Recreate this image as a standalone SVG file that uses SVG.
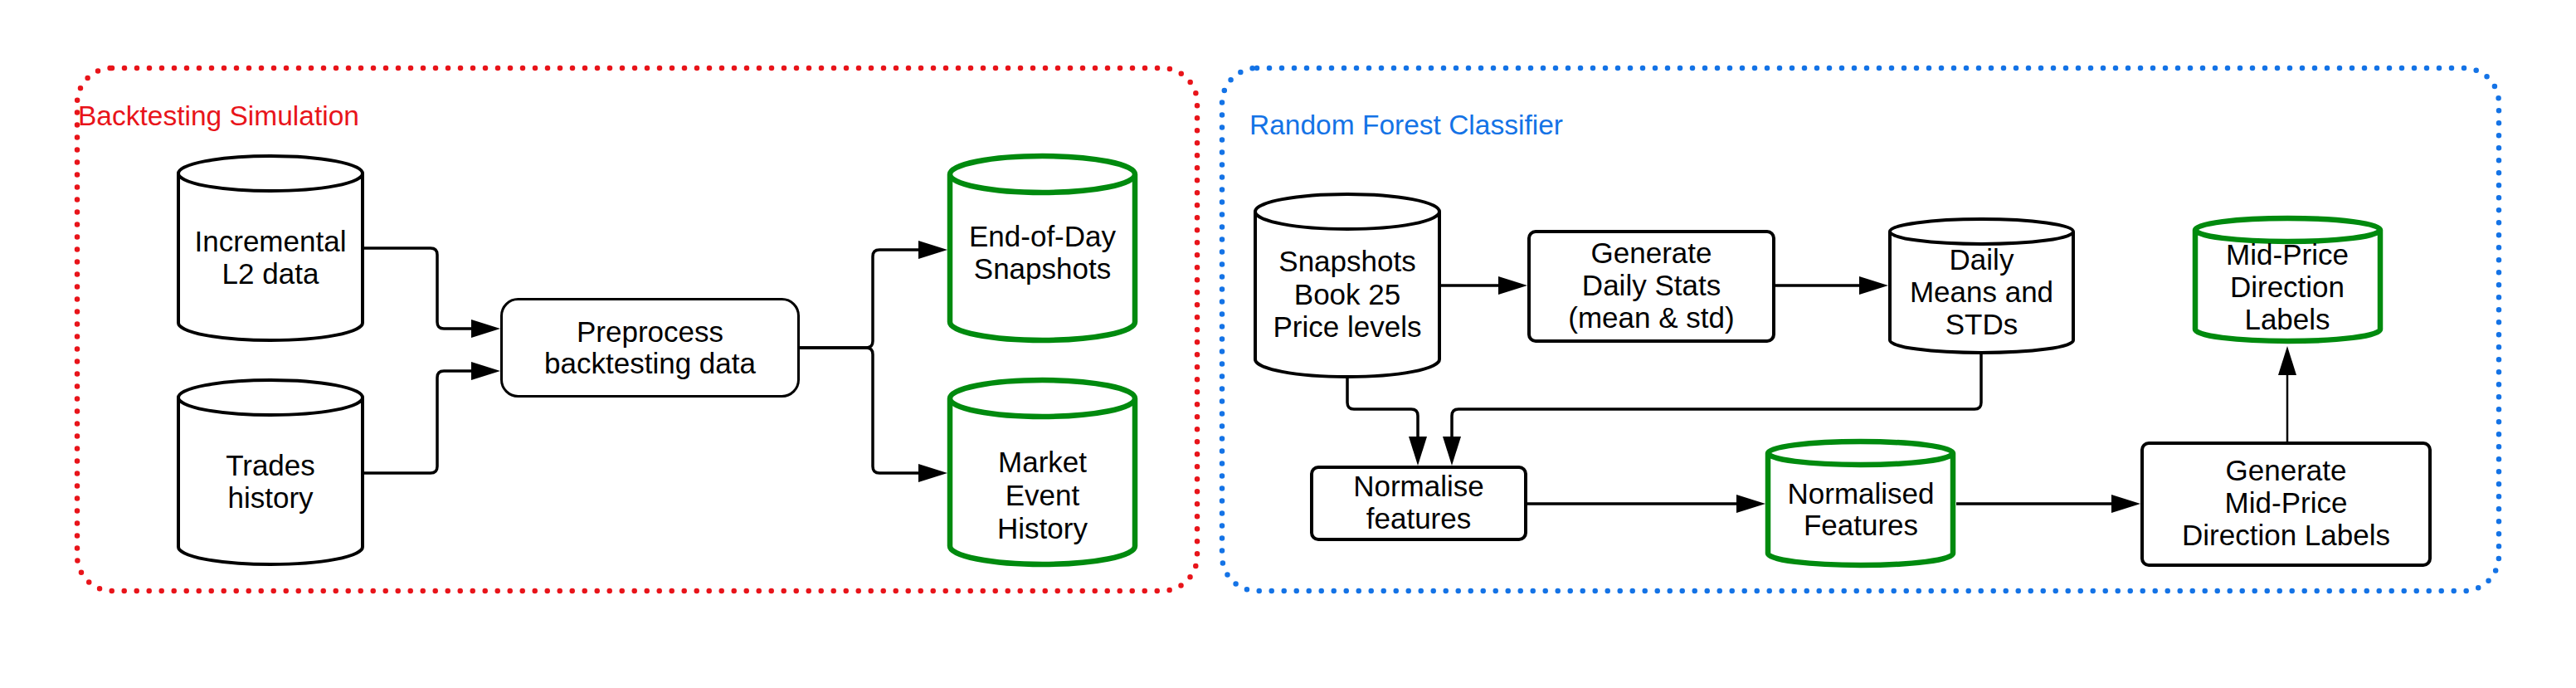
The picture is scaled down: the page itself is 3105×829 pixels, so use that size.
<svg xmlns="http://www.w3.org/2000/svg" width="3105" height="829" viewBox="0 0 3105 829">
<style>
text{font-family:"Liberation Sans",Arial,sans-serif;font-size:35px;fill:#000;text-anchor:middle}
.lbl{font-size:33.5px;text-anchor:start}
.cyl{fill:#fff;stroke:#000;stroke-width:4}
.gcyl{fill:#fff;stroke:#008a0e;stroke-width:6.5}
.box{fill:#fff;stroke:#000;stroke-width:4}
.con{fill:none;stroke:#000;stroke-width:3.5}
.cont{fill:none;stroke-width:6.5;stroke-dasharray:0 15;stroke-linecap:round}
</style>
<defs>
<marker id="ah" markerUnits="userSpaceOnUse" markerWidth="36" markerHeight="24" refX="27" refY="11" orient="auto">
<path d="M0,0 L35,11 L0,22 Z" fill="#000"/>
</marker>
</defs>
<rect width="3105" height="829" fill="#fff"/>
<g id="containers">
<rect id="backtesting" x="93" y="82" width="1350" height="630" rx="42" class="cont" stroke="#e8141a"/>
<rect id="rf" x="1473" y="82" width="1539" height="630" rx="42" class="cont" stroke="#1473e6"/>
<text class="lbl" x="94" y="151" style="fill:#e8141a">Backtesting Simulation</text>
<text class="lbl" x="1506" y="162" style="fill:#1473e6">Random Forest Classifier</text>
</g>
<g id="connectors">
<path class="con" d="M439,299 H519 Q527,299 527,307 V388 Q527,396 535,396 H595" marker-end="url(#ah)"/>
<path class="con" d="M439,570 H519 Q527,570 527,562 V455 Q527,447 535,447 H595" marker-end="url(#ah)"/>
<path class="con" d="M964,419 H1044 Q1052,419 1052,411 V309 Q1052,301 1060,301 H1134" marker-end="url(#ah)"/>
<path class="con" d="M964,419 H1044 Q1052,419 1052,427 V562 Q1052,570 1060,570 H1134" marker-end="url(#ah)"/>
<path class="con" d="M1737,344 H1833" marker-end="url(#ah)"/>
<path class="con" d="M2140,344 H2268" marker-end="url(#ah)"/>
<path class="con" d="M1624,456 V485 Q1624,493 1632,493 H1701 Q1709,493 1709,501 V553" marker-end="url(#ah)"/>
<path class="con" d="M2388,427 V485 Q2388,493 2380,493 H1758 Q1750,493 1750,501 V553" marker-end="url(#ah)"/>
<path class="con" d="M1841,607 H2120" marker-end="url(#ah)"/>
<path class="con" d="M2358,607 H2572" marker-end="url(#ah)"/>
<path class="con" style="stroke-width:2.5" d="M2757,532 V425" marker-end="url(#ah)"/>
</g>
<g id="incremental">
<path class="cyl" d="M215,209 A111,21 0 0 1 437,209 V389 A111,21 0 0 1 215,389 Z M215,209 A111,21 0 0 0 437,209"/>
<text x="326" y="303">Incremental</text><text x="326" y="342">L2 data</text>
</g>
<g id="trades">
<path class="cyl" d="M215,479 A111,21 0 0 1 437,479 V659 A111,21 0 0 1 215,659 Z M215,479 A111,21 0 0 0 437,479"/>
<text x="326" y="573">Trades</text><text x="326" y="612">history</text>
</g>
<g id="preprocess">
<rect class="box" style="stroke-width:3" x="604.5" y="360.5" width="358" height="117" rx="20"/>
<text x="783.5" y="412">Preprocess</text><text x="783.5" y="450">backtesting data</text>
</g>
<g id="eod">
<path class="gcyl" d="M1145,210 A111.5,22 0 0 1 1368,210 V388 A111.5,22 0 0 1 1145,388 Z M1145,210 A111.5,22 0 0 0 1368,210"/>
<text x="1256.5" y="297">End-of-Day</text><text x="1256.5" y="336">Snapshots</text>
</g>
<g id="market">
<path class="gcyl" d="M1145,480 A111.5,22 0 0 1 1368,480 V658 A111.5,22 0 0 1 1145,658 Z M1145,480 A111.5,22 0 0 0 1368,480"/>
<text x="1256.5" y="569">Market</text><text x="1256.5" y="609">Event</text><text x="1256.5" y="649">History</text>
</g>
<g id="snapshots">
<path class="cyl" d="M1513,255 A111,21 0 0 1 1735,255 V433 A111,21 0 0 1 1513,433 Z M1513,255 A111,21 0 0 0 1735,255"/>
<text x="1624" y="327">Snapshots</text><text x="1624" y="367">Book 25</text><text x="1624" y="406">Price levels</text>
</g>
<g id="dailystats">
<rect class="box" x="1843" y="279" width="295" height="132" rx="8"/>
<text x="1990.5" y="317">Generate</text><text x="1990.5" y="356">Daily Stats</text><text x="1990.5" y="395">(mean &amp; std)</text>
</g>
<g id="dailymeans">
<path class="cyl" d="M2278,279 A110.5,15 0 0 1 2499,279 V410 A110.5,15 0 0 1 2278,410 Z M2278,279 A110.5,15 0 0 0 2499,279"/>
<text x="2388.5" y="325">Daily</text><text x="2388.5" y="364">Means and</text><text x="2388.5" y="403">STDs</text>
</g>
<g id="midprice">
<path class="gcyl" d="M2646,277 A111.5,14 0 0 1 2869,277 V397 A111.5,14 0 0 1 2646,397 Z M2646,277 A111.5,14 0 0 0 2869,277"/>
<text x="2757" y="319">Mid-Price</text><text x="2757" y="358">Direction</text><text x="2757" y="397">Labels</text>
</g>
<g id="normalise">
<rect class="box" x="1581" y="563" width="258" height="87" rx="8"/>
<text x="1710" y="598">Normalise</text><text x="1710" y="637">features</text>
</g>
<g id="normalised">
<path class="gcyl" d="M2131,546 A111.5,14 0 0 1 2354,546 V667 A111.5,14 0 0 1 2131,667 Z M2131,546 A111.5,14 0 0 0 2354,546"/>
<text x="2243" y="607">Normalised</text><text x="2243" y="645">Features</text>
</g>
<g id="genmid">
<rect class="box" x="2582" y="534" width="347" height="147" rx="8"/>
<text x="2755.5" y="579">Generate</text><text x="2755.5" y="618">Mid-Price</text><text x="2755.5" y="657">Direction Labels</text>
</g>
</svg>
